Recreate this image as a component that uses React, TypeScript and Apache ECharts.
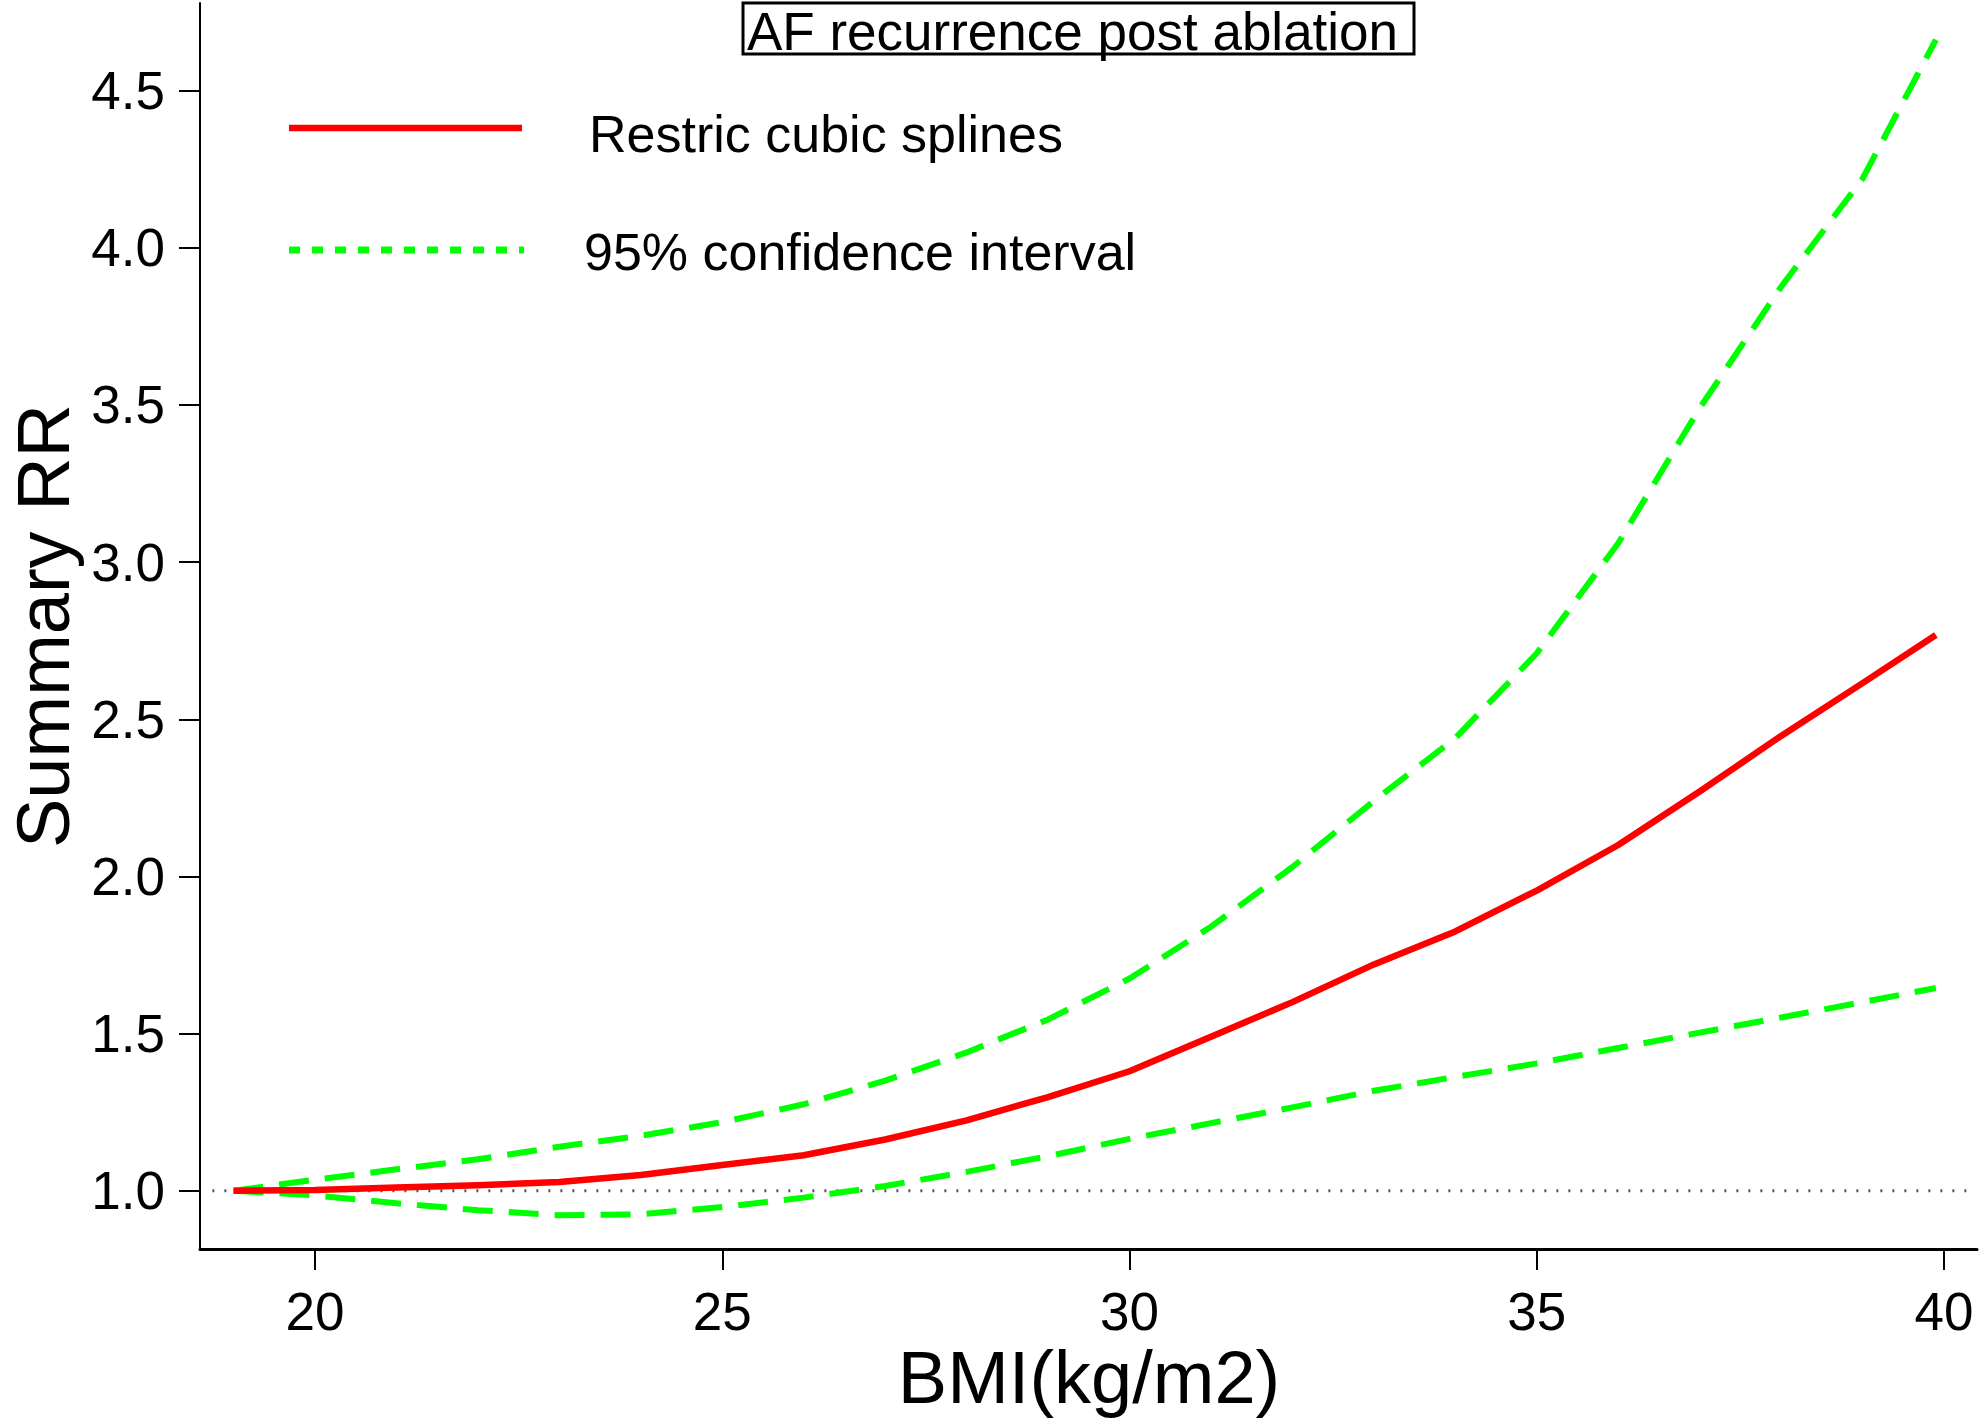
import React, { useEffect, useRef } from "react";
import * as echarts from "echarts";

const bmi = [19, 20, 21, 22, 23, 24, 25, 26, 27, 28, 29, 30, 31, 32, 33, 34, 35, 36, 37, 38, 39, 39.9];
const rcs = [1.0, 1.002, 1.01, 1.017, 1.028, 1.05, 1.082, 1.113, 1.163, 1.224, 1.298, 1.38, 1.49, 1.6, 1.72, 1.825, 1.955, 2.1, 2.27, 2.447, 2.615, 2.768];
const upperCI = [1.0, 1.035, 1.068, 1.1, 1.14, 1.175, 1.218, 1.275, 1.35, 1.44, 1.545, 1.675, 1.84, 2.03, 2.24, 2.44, 2.71, 3.06, 3.49, 3.876, 4.22, 4.662];
const lowerCI = [1.0, 0.985, 0.96, 0.938, 0.922, 0.925, 0.948, 0.978, 1.015, 1.06, 1.11, 1.165, 1.215, 1.265, 1.318, 1.362, 1.405, 1.454, 1.503, 1.551, 1.6, 1.645];
const refLine = [[18.74, 1.0], [40.34, 1.0]];
const xTicks = [20, 25, 30, 35, 40];
const yTicks = [1.0, 1.5, 2.0, 2.5, 3.0, 3.5, 4.0, 4.5];

const titleText = "AF recurrence post ablation";
const legendNames = ["Restric cubic splines", "95% confidence interval"];
const xName = "BMI(kg/m2)";
const yName = "Summary RR";

const FONT = "'Liberation Sans', Arial, Helvetica, sans-serif";
const RED = "#ff0000";
const GREEN = "#00ff00";

export default function App() {
  const ref = useRef<HTMLDivElement>(null);

  useEffect(() => {
    if (!ref.current) return;
    const chart = echarts.init(ref.current, undefined, { renderer: "svg" });
    const pair = (ys: number[]) => bmi.map((x, i) => [x, ys[i]]);

    const option: any = {
      animation: false,
      backgroundColor: "#ffffff",
      textStyle: { fontFamily: FONT },
      grid: { left: 200, right: 6, top: 3, bottom: 171, containLabel: false },
      xAxis: {
        type: "value",
        min: 18.588,
        max: 40.405,
        splitLine: { show: false },
        axisLine: { show: true, onZero: false, lineStyle: { color: "#000", width: 3 } },
        axisTick: { show: true, customValues: xTicks, length: 21, lineStyle: { color: "#000", width: 2 } },
        axisLabel: {
          customValues: xTicks,
          margin: 36,
          fontSize: 53,
          color: "#000",
          fontFamily: FONT,
          formatter: (v: number) => String(v),
        },
      },
      yAxis: {
        type: "value",
        min: 0.8145,
        max: 4.779,
        splitLine: { show: false },
        axisLine: { show: true, onZero: false, lineStyle: { color: "#000", width: 2 } },
        axisTick: { show: true, customValues: yTicks, length: 21, lineStyle: { color: "#000", width: 2 } },
        axisLabel: {
          customValues: yTicks,
          margin: 35,
          fontSize: 53,
          color: "#000",
          fontFamily: FONT,
          formatter: (v: number) => v.toFixed(1),
        },
      },
      series: [
        {
          type: "line",
          data: refLine,
          showSymbol: false,
          silent: true,
          lineStyle: { color: "#555", width: 3, type: [2, 10] },
        },
        {
          name: legendNames[1],
          type: "line",
          data: pair(upperCI),
          showSymbol: false,
          lineStyle: { color: GREEN, width: 6, type: [30, 16], cap: "butt", join: "round" },
        },
        {
          name: legendNames[1] + " (lower)",
          type: "line",
          data: pair(lowerCI),
          showSymbol: false,
          lineStyle: { color: GREEN, width: 6, type: [30, 16], cap: "butt", join: "round" },
        },
        {
          name: legendNames[0],
          type: "line",
          data: pair(rcs),
          showSymbol: false,
          lineStyle: { color: RED, width: 6.5, join: "round" },
        },
      ],
      graphic: [
        {
          type: "rect",
          shape: { x: 743, y: 3, width: 671, height: 51 },
          style: { fill: "none", stroke: "#000", lineWidth: 3 },
          z: 10,
        },
        {
          type: "text",
          x: 747,
          y: 31.5,
          style: {
            text: titleText,
            fontSize: 53,
            fontFamily: FONT,
            fill: "#000",
            textAlign: "left",
            textVerticalAlign: "middle",
          },
          z: 10,
        },
        {
          type: "line",
          shape: { x1: 289, y1: 128, x2: 522, y2: 128 },
          style: { stroke: RED, lineWidth: 6.5 },
          z: 10,
        },
        {
          type: "line",
          shape: { x1: 289, y1: 250, x2: 524, y2: 250 },
          style: { stroke: GREEN, lineWidth: 7, lineDash: [11, 12] },
          z: 10,
        },
        {
          type: "text",
          x: 589,
          y: 134,
          style: {
            text: legendNames[0],
            fontSize: 52,
            fontFamily: FONT,
            fill: "#000",
            textAlign: "left",
            textVerticalAlign: "middle",
          },
          z: 10,
        },
        {
          type: "text",
          x: 584,
          y: 252,
          style: {
            text: legendNames[1],
            fontSize: 52,
            fontFamily: FONT,
            fill: "#000",
            textAlign: "left",
            textVerticalAlign: "middle",
          },
          z: 10,
        },
        {
          type: "text",
          x: 1089,
          y: 1377,
          style: {
            text: xName,
            fontSize: 74,
            fontFamily: FONT,
            fill: "#000",
            textAlign: "center",
            textVerticalAlign: "middle",
          },
          z: 10,
        },
        {
          type: "text",
          x: 43,
          y: 626,
          rotation: Math.PI / 2,
          style: {
            text: yName,
            fontSize: 74,
            fontFamily: FONT,
            fill: "#000",
            textAlign: "center",
            textVerticalAlign: "middle",
          },
          z: 10,
        },
      ],
    };

    chart.setOption(option);
    return () => {
      chart.dispose();
    };
  }, []);

  return (
    <div
      ref={ref}
      style={{ position: "absolute", left: 0, top: 0, width: 1983, height: 1420, background: "#fff" }}
    />
  );
}
